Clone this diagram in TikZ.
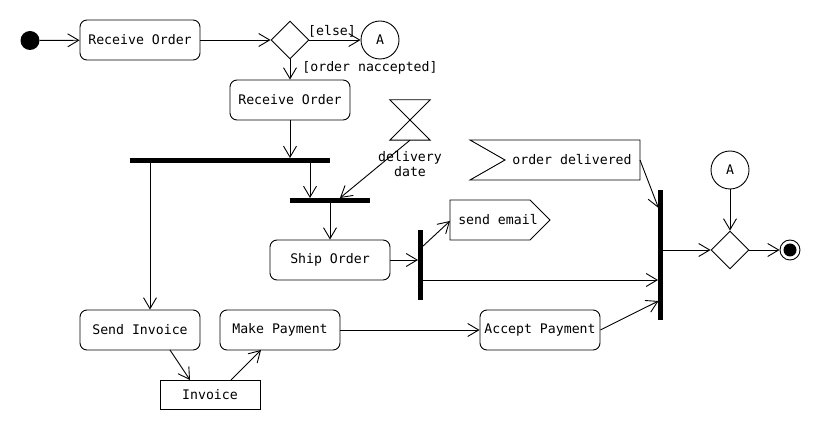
\documentclass[tikz,border=0pt]{standalone}
\usepackage{fontspec}
\setmonofont{DejaVu Sans Mono}
\usetikzlibrary{arrows.meta,shapes.geometric,calc}
\begin{document}
\begin{tikzpicture}[x=1pt,y=-1pt,
  every node/.style={font=\ttfamily\fontsize{13.2}{15.5}\selectfont},
  line/.style={line width=0.9pt},
  arr/.style={line width=0.9pt,-{Straight Barb[length=11pt,width=13pt,line width=0.9pt]}},
  act/.style={draw,line width=0.9pt,rounded corners=7pt,minimum width=120pt,minimum height=40pt,inner sep=0pt},
  obj/.style={draw,line width=0.9pt,minimum width=100pt,minimum height=29pt,inner sep=0pt},
  dia/.style={draw,line width=0.9pt,diamond,minimum width=38pt,minimum height=38pt,inner sep=0pt},
  conn/.style={draw,line width=0.9pt,circle,minimum size=38pt,inner sep=0pt},
  bar/.style={fill=black,inner sep=0pt,outer sep=0pt},
  lbl/.style={inner sep=0pt}]
\useasboundingbox (0,0) rectangle (820,430);

% nodes
\node[circle,fill=black,minimum size=19pt,inner sep=0pt] (init) at (30,40.5) {};
\node[act] (ro1) at (140,40) {Receive Order};
\node[dia] (dec) at (290,40) {};
\node[conn] (A1) at (380,40) {A};
\node[act] (ro2) at (290,100) {Receive Order};
\node[bar,minimum width=200pt,minimum height=5pt] (bar1) at (230,160.5) {};
\node[bar,minimum width=80pt,minimum height=5pt] (bar2) at (330,200.5) {};
\node[minimum width=40pt,minimum height=40pt,inner sep=0pt] (hg) at (410,120) {};
\node[lbl,align=center,anchor=north] (hglbl) at (410,151) {delivery\\date};
\node[act] (ship) at (330,260) {Ship Order};
\node[bar,minimum width=5pt,minimum height=70pt] (bar3) at (420.5,265) {};
\node[lbl] (email) at (498,220) {send email};
\node[lbl] (od) at (572,160) {order delivered};
\node[bar,minimum width=5pt,minimum height=130pt] (bar4) at (660.5,255) {};
\node[conn] (A2) at (730,170) {A};
\node[dia] (merge) at (730,250) {};
\node[draw,line width=0.9pt,circle,minimum size=20pt,inner sep=0pt] (final) at (790,250) {};
\node[circle,fill=black,minimum size=13pt,inner sep=0pt] (finalin) at (final) {};
\node[act] (sendinv) at (140,330) {Send Invoice};
\node[act] (makepay) at (280,330) {Make Payment};
\node[act] (accpay) at (540,330) {Accept Payment};
\node[obj] (inv) at (210,394.5) {Invoice};

% shapes
\draw[line] (hg.north west) -- (hg.north east) -- (hg.south west) -- (hg.south east) -- cycle;
\draw[line] (450,200) -- (530,200) -- (550,220) -- (530,240) -- (450,240) -- cycle;
\draw[line] (470,140) -- (640,140) -- (640,180) -- (470,180) -- (505,160) -- cycle;

% coordinates
\coordinate (c0) at (150,160);
\coordinate (c1) at (310,160);
\coordinate (c2) at (340,198);
\coordinate (c3) at (422,247);
\coordinate (c4) at (450,221);
\coordinate (c5) at (422,280);
\coordinate (c6) at (640,160);
\coordinate (c7) at (658.5,208);
\coordinate (c8) at (658.5,301);
\coordinate (c9) at (170,350);
\coordinate (c10) at (190,380);
\coordinate (c11) at (231,380);
\coordinate (c12) at (261,350);

% connectors
\draw[arr] (init) -- (ro1);
\draw[arr] (ro1) -- (dec);
\draw[arr] (dec) -- (A1);
\node[lbl] (lelse) at (332,31) {[else]};
\draw[arr] (dec) -- (ro2);
\node[lbl] (lacc) at (370,68) {[order naccepted]};
\draw[arr] (ro2.south) -- (ro2.south |- bar1.north);
\draw[arr] (c1 |- bar1.south) -- (c1 |- bar2.north);
\draw[arr] (hg.south) -- (c2);
\draw[arr] (ship.north |- bar2.south) -- (ship.north);
\draw[arr] (c0 |- bar1.south) -- (c0 |- sendinv.north);
\draw[arr] (ship.east) -- (ship.east -| bar3.west);
\draw[arr] (c3) -- (c4);
\draw[arr] (c5) -- (c5 -| bar4.west);
\draw[arr] (c6) -- (c7);
\draw[arr] (accpay.east) -- (c8);
\draw[arr] (bar4.east |- merge.west) -- (merge.west);
\draw[arr] (A2) -- (merge);
\draw[arr] (merge) -- (final);
\draw[arr] (c9) -- (c10);
\draw[arr] (c11) -- (c12);
\draw[arr] (makepay) -- (accpay);
\end{tikzpicture}
\end{document}
